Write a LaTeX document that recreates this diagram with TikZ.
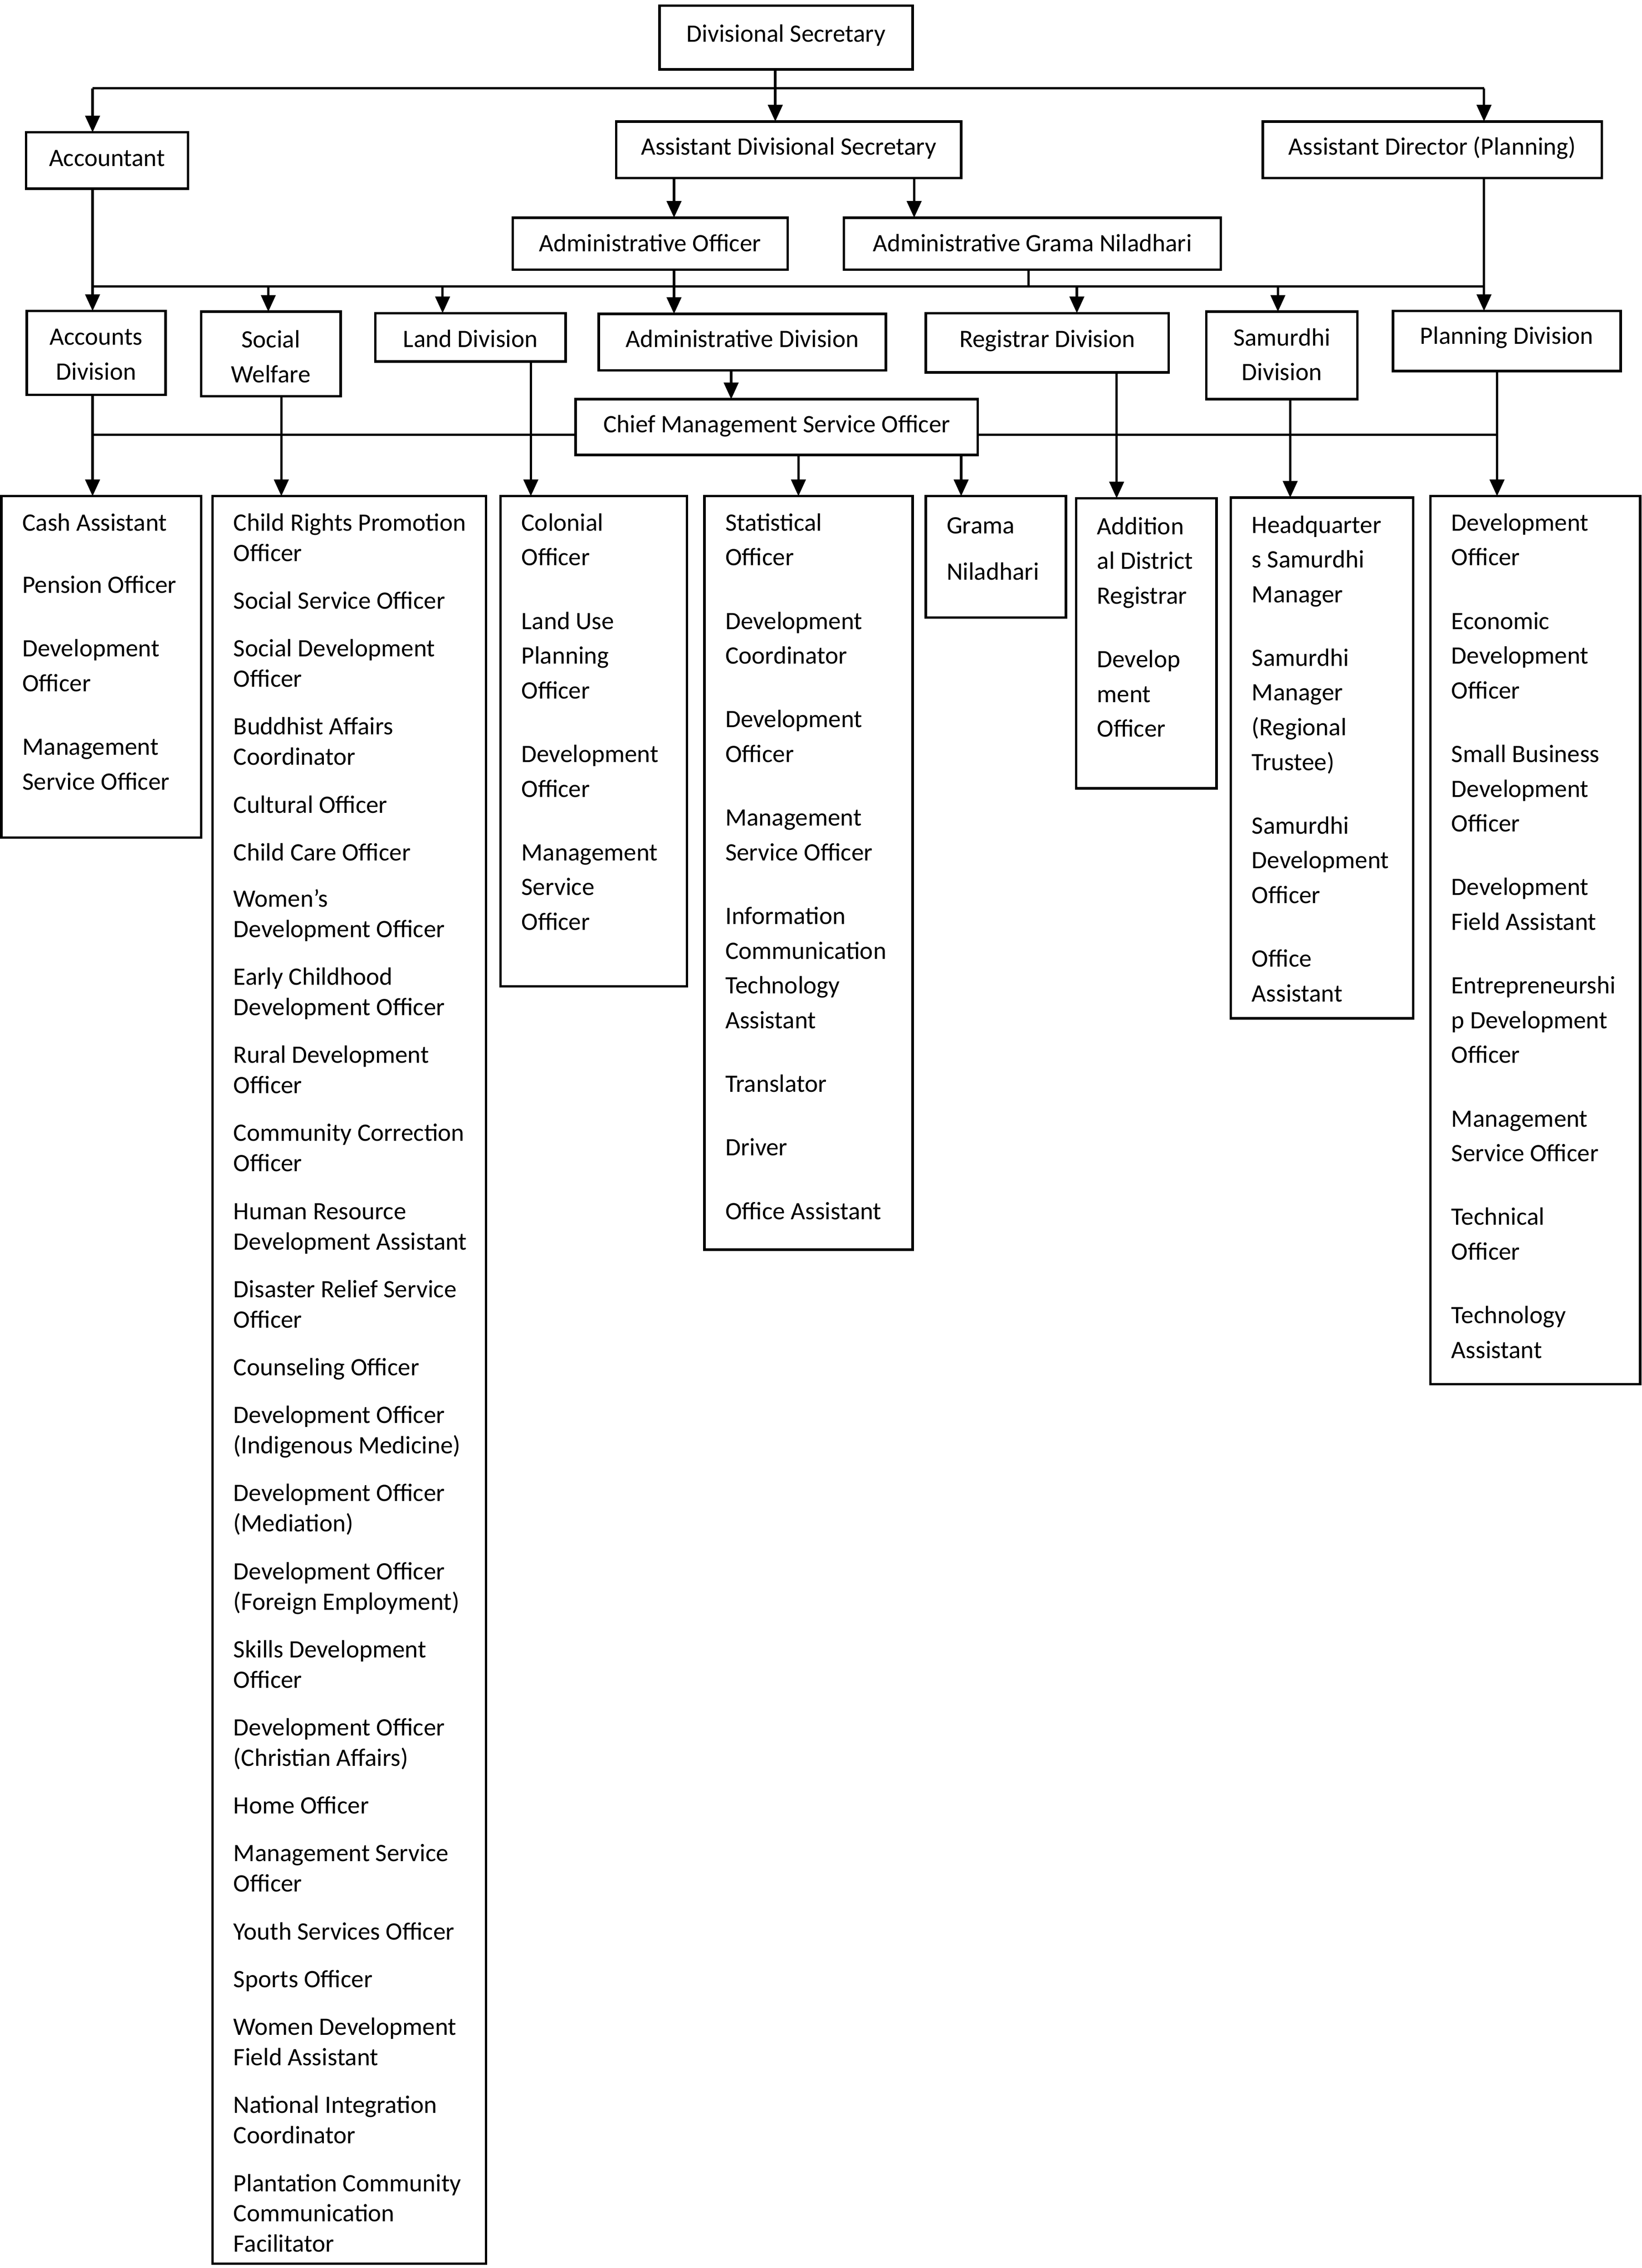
\documentclass[tikz,border=0pt]{standalone}
\usepackage{fontspec}
\setmainfont{Carlito}
\usetikzlibrary{arrows.meta}
\makeatletter
\newcommand\boxc[4]{\parbox[t][#2pt][t]{#1pt}{\leftskip=-60pt plus 1fil\rightskip=-60pt plus 1fil\parfillskip=0pt\parindent=0pt\let\\\@centercr\rule{0pt}{#3pt}#4\par}}
\newcommand\boxl[4]{\parbox[t][#2pt][t]{#1pt}{\raggedright\leftskip=14.5pt\rightskip=-100pt plus 1fil\rule{0pt}{#3pt}#4\par}}
\makeatother
\tikzset{
  bx/.style={draw, line width=1.7pt, inner sep=0pt, outer sep=0pt, anchor=north west,
    font=\fontsize{17.3}{24}\selectfont},
  conn/.style={line width=1.7pt},
  arr/.style={line width=1.7pt, -{Triangle[length=11.5pt,width=10pt]}}
}
\begin{document}
\begin{tikzpicture}[x=1pt,y=-1pt]
\useasboundingbox (0,0) rectangle (1135,1568);
% level 1
\node[bx] (ds) at (456,4) {\boxc{175}{44}{25}{Divisional Secretary}};
% level 2
\node[bx] (acc) at (18,91.5) {\boxc{112}{39}{23.5}{Accountant}};
\node[bx] (ads) at (426,84) {\boxc{238.5}{39}{23}{Assistant Divisional Secretary}};
\node[bx] (adp) at (873,84) {\boxc{234.5}{39}{23}{Assistant Director (Planning)}};
% level 3
\node[bx] (ao) at (354.5,150.5) {\boxc{190}{36}{23.5}{Administrative Officer}};
\node[bx] (agn) at (583.5,150.5) {\boxc{260.5}{36}{23.5}{Administrative Grama Niladhari}};
% divisions
\node[bx] (accd) at (18.5,215) {\boxc{96}{58}{23.5}{Accounts\\Division}};
\node[bx] (sw) at (139,215.5) {\boxc{96.5}{58.5}{25}{Social\\Welfare}};
\node[bx] (land) at (259.5,216.5) {\boxc{131.5}{33.5}{23.5}{Land Division}};
\node[bx] (admd) at (414,217) {\boxc{198.5}{39}{23}{Administrative Division}};
\node[bx] (reg) at (640,216.5) {\boxc{168}{41}{23.5}{Registrar Division}};
\node[bx] (samd) at (834,215.5) {\boxc{104.5}{60.5}{23.5}{Samurdhi\\Division}};
\node[bx] (pland) at (963,215) {\boxc{157.5}{41.5}{23}{Planning Division}};
\node[bx] (cmso) at (398,276) {\boxc{278}{38.5}{23}{Chief Management Service Officer}};
% lists
\node[bx] (cash) at (1,343) {\boxl{138}{236}{24}{Cash Assistant\\[19pt]Pension Officer\\[20pt]Development\\Officer\\[20pt]Management\\Service Officer}};
\node[bx] (soc) at (147,343) {\boxl{189}{1222}{24}{\fontsize{17.3}{21}\selectfont
Child Rights Promotion\\Officer\\[12pt]
Social Service Officer\\[12pt]
Social Development\\Officer\\[12pt]
Buddhist Affairs\\Coordinator\\[12pt]
Cultural Officer\\[12pt]
Child Care Officer\\[11pt]
Women’s\\Development Officer\\[12pt]
Early Childhood\\Development Officer\\[12pt]
Rural Development\\Officer\\[12pt]
Community Correction\\Officer\\[12pt]
Human Resource\\Development Assistant\\[12pt]
Disaster Relief Service\\Officer\\[12pt]
Counseling Officer\\[12pt]
Development Officer\\(Indigenous Medicine)\\[12pt]
Development Officer\\(Mediation)\\[12pt]
Development Officer\\(Foreign Employment)\\[12pt]
Skills Development\\Officer\\[12pt]
Development Officer\\(Christian Affairs)\\[12pt]
Home Officer\\[12pt]
Management Service\\Officer\\[12pt]
Youth Services Officer\\[12pt]
Sports Officer\\[12pt]
Women Development\\Field Assistant\\[12pt]
National Integration\\Coordinator\\[12pt]
Plantation Community\\Communication\\Facilitator}};
\node[bx] (landl) at (346,343) {\boxl{129}{339}{24}{Colonial\\Officer\\[20pt]Land Use\\Planning\\Officer\\[20pt]Development\\Officer\\[20pt]Management\\Service\\Officer}};
\node[bx] (stat) at (487,343) {\boxl{144}{521}{24}{Statistical\\Officer\\[20pt]Development\\Coordinator\\[20pt]Development\\Officer\\[20pt]Management\\Service Officer\\[20pt]Information\\Communication\\Technology\\Assistant\\[20pt]Translator\\[20pt]Driver\\[20pt]Office Assistant}};
\node[bx] (gn) at (640,343) {\boxl{97}{84}{26}{Grama\\[8pt]Niladhari}};
\node[bx] (addr) at (744,344.5) {\boxl{97}{200.5}{25}{Addition\\al District\\Registrar\\[20pt]Develop\\ment\\Officer}};
\node[bx] (saml) at (851,344) {\boxl{126}{360}{24.5}{Headquarter\\s Samurdhi\\Manager\\[20pt]Samurdhi\\Manager\\(Regional\\Trustee)\\[20pt]Samurdhi\\Development\\Officer\\[20pt]Office\\Assistant}};
\node[bx] (planl) at (989,343) {\boxl{145}{614}{24}{Development\\Officer\\[20pt]Economic\\Development\\Officer\\[20pt]Small Business\\Development\\Officer\\[20pt]Development\\Field Assistant\\[20pt]Entrepreneurshi\\p Development\\Officer\\[20pt]Management\\Service Officer\\[20pt]Technical\\Officer\\[20pt]Technology\\Assistant}};
% columns and bus levels
\coordinate (cA) at (64,0);
\coordinate (cP) at (1026,0);
\coordinate (cD) at (536,0);
\coordinate (b1) at (0,61);
\coordinate (b2) at (0,198);
\coordinate (b3) at (0,300.5);
\coordinate (xao) at (466,0);
\coordinate (xagn) at (632,0);
\coordinate (xagd) at (711,0);
\coordinate (xsw) at (185.5,0);
\coordinate (xland) at (306,0);
\coordinate (xreg) at (744.5,0);
\coordinate (xsam) at (883.5,0);
\coordinate (xcm) at (505.5,0);
\coordinate (ysw) at (194.5,0);
\coordinate (yland) at (367,0);
\coordinate (ystat) at (552,0);
\coordinate (ygn) at (664.5,0);
\coordinate (yreg) at (772,0);
\coordinate (ysam) at (892,0);
\coordinate (ypl) at (1035,0);
% level 1 connectors
\draw[conn] (ds.south -| cD) -- (b1 -| cD);
\draw[conn] (b1 -| cA) -- (b1 -| cP);
\draw[arr] (b1 -| cA) -- (acc.north -| cA);
\draw[arr] (b1 -| cD) -- (ads.north -| cD);
\draw[arr] (b1 -| cP) -- (adp.north -| cP);
% level 2 connectors
\draw[arr] (ads.south -| xao) -- (ao.north -| xao);
\draw[arr] (ads.south -| xagn) -- (agn.north -| xagn);
\draw[conn] (b2 -| cA) -- (b2 -| cP);
\draw[arr] (acc.south -| cA) -- (accd.north -| cA);
\draw[arr] (adp.south -| cP) -- (pland.north -| cP);
\draw[arr] (ao.south -| xao) -- (admd.north -| xao);
\draw[conn] (agn.south -| xagd) -- (b2 -| xagd);
\draw[arr] (b2 -| xsw) -- (sw.north -| xsw);
\draw[arr] (b2 -| xland) -- (land.north -| xland);
\draw[arr] (b2 -| xreg) -- (reg.north -| xreg);
\draw[arr] (b2 -| xsam) -- (samd.north -| xsam);
% level 3 connectors
\draw[arr] (admd.south -| xcm) -- (cmso.north -| xcm);
\draw[conn] (b3 -| cA) -- (b3 -| cmso.west);
\draw[conn] (b3 -| cmso.east) -- (b3 -| ypl);
\draw[arr] (accd.south -| cA) -- (cash.north -| cA);
\draw[arr] (sw.south -| ysw) -- (soc.north -| ysw);
\draw[arr] (land.south -| yland) -- (landl.north -| yland);
\draw[arr] (cmso.south -| ystat) -- (stat.north -| ystat);
\draw[arr] (cmso.south -| ygn) -- (gn.north -| ygn);
\draw[arr] (reg.south -| yreg) -- (addr.north -| yreg);
\draw[arr] (samd.south -| ysam) -- (saml.north -| ysam);
\draw[arr] (pland.south -| ypl) -- (planl.north -| ypl);
\end{tikzpicture}
\end{document}
